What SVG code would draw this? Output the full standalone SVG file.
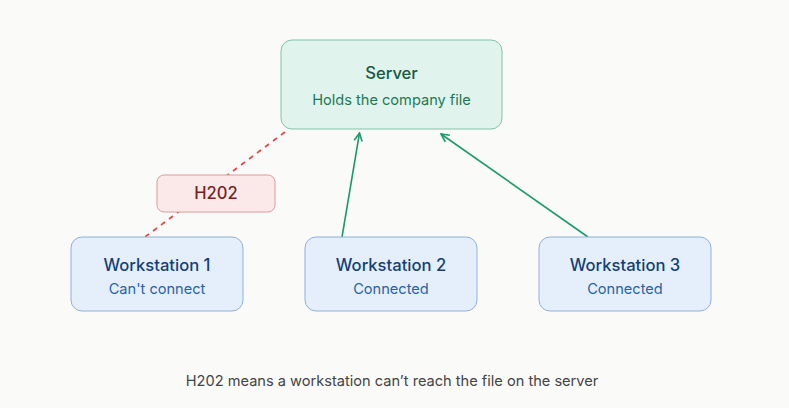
<svg xmlns="http://www.w3.org/2000/svg" width="789" height="408" viewBox="0 0 789 408">
<style>
text{font-family:Inter,"Liberation Sans",sans-serif;text-anchor:middle}
.ws rect{fill:#e5effb;stroke:#8fb0da;stroke-width:1}
.t{font-size:16.6px;font-weight:500;fill:#123f78}
.s{font-size:14.6px;fill:#2563a8}
.ok{stroke:#1e9a6c;stroke-width:1.6;fill:none}
</style>
<defs>
<marker id="ah" viewBox="0 0 10 10" refX="9" refY="5" markerWidth="10" markerHeight="10" markerUnits="userSpaceOnUse" orient="auto">
<path d="M1,1 L9,5 L1,9" fill="none" stroke="#1e9a6c" stroke-width="1.6"/>
</marker>
</defs>
<rect width="789" height="408" fill="#fafaf8"/>
<g id="connectors">
<line x1="145" y1="237" x2="289" y2="129" stroke="#e0464a" stroke-width="1.6" stroke-dasharray="5,5"/>
<line class="ok" x1="342" y1="237" x2="359.5" y2="133" marker-end="url(#ah)"/>
<line class="ok" x1="588" y1="237" x2="441" y2="134" marker-end="url(#ah)"/>
</g>
<g id="server">
<rect x="281" y="40" width="221" height="89" rx="11" fill="#e0f3ec" stroke="#80c4a6"/>
<text x="391.5" y="79" font-size="16.6" font-weight="500" fill="#145c43">Server</text>
<text x="391.5" y="105" font-size="14.6" fill="#1b7a55">Holds the company file</text>
</g>
<g id="h202">
<rect x="157" y="175" width="118" height="37" rx="7" fill="#fbe9e9" stroke="#dd9a9a"/>
<text x="216" y="199" font-size="16.6" font-weight="500" fill="#7a1f1f">H202</text>
</g>
<g id="ws1" class="ws">
<rect x="71" y="237" width="172" height="74" rx="11"/>
<text class="t" x="157" y="271">Workstation 1</text>
<text class="s" x="157" y="294">Can't connect</text>
</g>
<g id="ws2" class="ws">
<rect x="305" y="237" width="172" height="74" rx="11"/>
<text class="t" x="391" y="271">Workstation 2</text>
<text class="s" x="391" y="294">Connected</text>
</g>
<g id="ws3" class="ws">
<rect x="539" y="237" width="172" height="74" rx="11"/>
<text class="t" x="625" y="271">Workstation 3</text>
<text class="s" x="625" y="294">Connected</text>
</g>
<text x="392" y="386" font-size="14.6" fill="#444">H202 means a workstation can’t reach the file on the server</text>
</svg>
